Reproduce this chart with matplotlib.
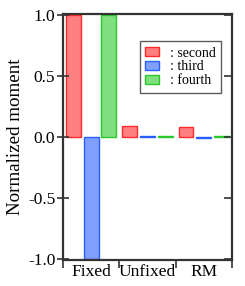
import numpy as np
import matplotlib
matplotlib.use("Agg")
import matplotlib.pyplot as plt
from matplotlib.ticker import FixedLocator, NullFormatter

# ---- data ----
categories = ["Fixed", "Unfixed", "RM"]
second = [1.0, 0.09, 0.085]
third = [-1.0, 0.005, -0.005]
fourth = [1.0, 0.005, 0.005]
series_labels = [": second", ": third", ": fourth"]

plt.rcParams["font.family"] = ["Liberation Serif", "DejaVu Serif"]

fig = plt.figure(figsize=(2.45, 2.86), dpi=100)
ax = fig.add_axes([0.257, 0.091, 0.69, 0.86])

x = np.arange(len(categories)) + 0.5
width = 0.265
offsets = [-0.316, 0.0, 0.316]
faces = ["#ff8080", "#809fff", "#80e080"]
edges = ["#ff2a2a", "#2a5fff", "#2ac82a"]

for vals, off, fc, ec, lab in zip([second, third, fourth], offsets, faces, edges, series_labels):
    ax.bar(x + off, vals, width=width, color=fc, edgecolor=ec, linewidth=1.0, label=lab)

ax.set_xlim(0, len(categories))
ax.set_ylim(-1.01, 1.01)
ax.set_yticks([-1.0, -0.5, 0.0, 0.5, 1.0])
ax.set_yticklabels(["-1.0", "-0.5", "0.0", "0.5", "1.0"])

# category boundaries as outward ticks, labels at centres
ax.xaxis.set_major_locator(FixedLocator([0, 1, 2, 3]))
ax.xaxis.set_major_formatter(NullFormatter())
ax.xaxis.set_minor_locator(FixedLocator(list(x)))
ax.set_xticklabels(categories, minor=True)
ax.tick_params(axis="x", which="major", direction="out", length=6, width=1.2, color="#333333")
ax.tick_params(axis="x", which="minor", length=0, labelsize=12.5, pad=3)
ax.tick_params(axis="y", which="major", direction="inout", length=9, width=1.2,
               color="#333333", left=True, right=False, labelsize=12.5, pad=1)

# inward ticks on the right side
ax2 = ax.twinx()
ax2.set_ylim(ax.get_ylim())
ax2.set_yticks(ax.get_yticks())
ax2.tick_params(axis="y", direction="in", length=6, width=1.2, color="#333333",
                labelright=False)
ax2.spines[:].set_visible(False)

for sp in ax.spines.values():
    sp.set_linewidth(1.6)
    sp.set_color("#333333")

ax.set_ylabel("Normalized moment", fontsize=13.7)
ax.yaxis.set_label_coords(-0.232, 0.5)

leg = ax2.legend(*ax.get_legend_handles_labels(), loc="upper right",
                 bbox_to_anchor=(0.935, 0.89), borderaxespad=0, fontsize=10,
                 frameon=True, fancybox=False, edgecolor="#333333",
                 handlelength=1.0, handleheight=0.6, handletextpad=0.75,
                 labelspacing=0.05, borderpad=0.4)
leg.get_frame().set_linewidth(1.0)

fig.savefig("out.png", dpi=100)
